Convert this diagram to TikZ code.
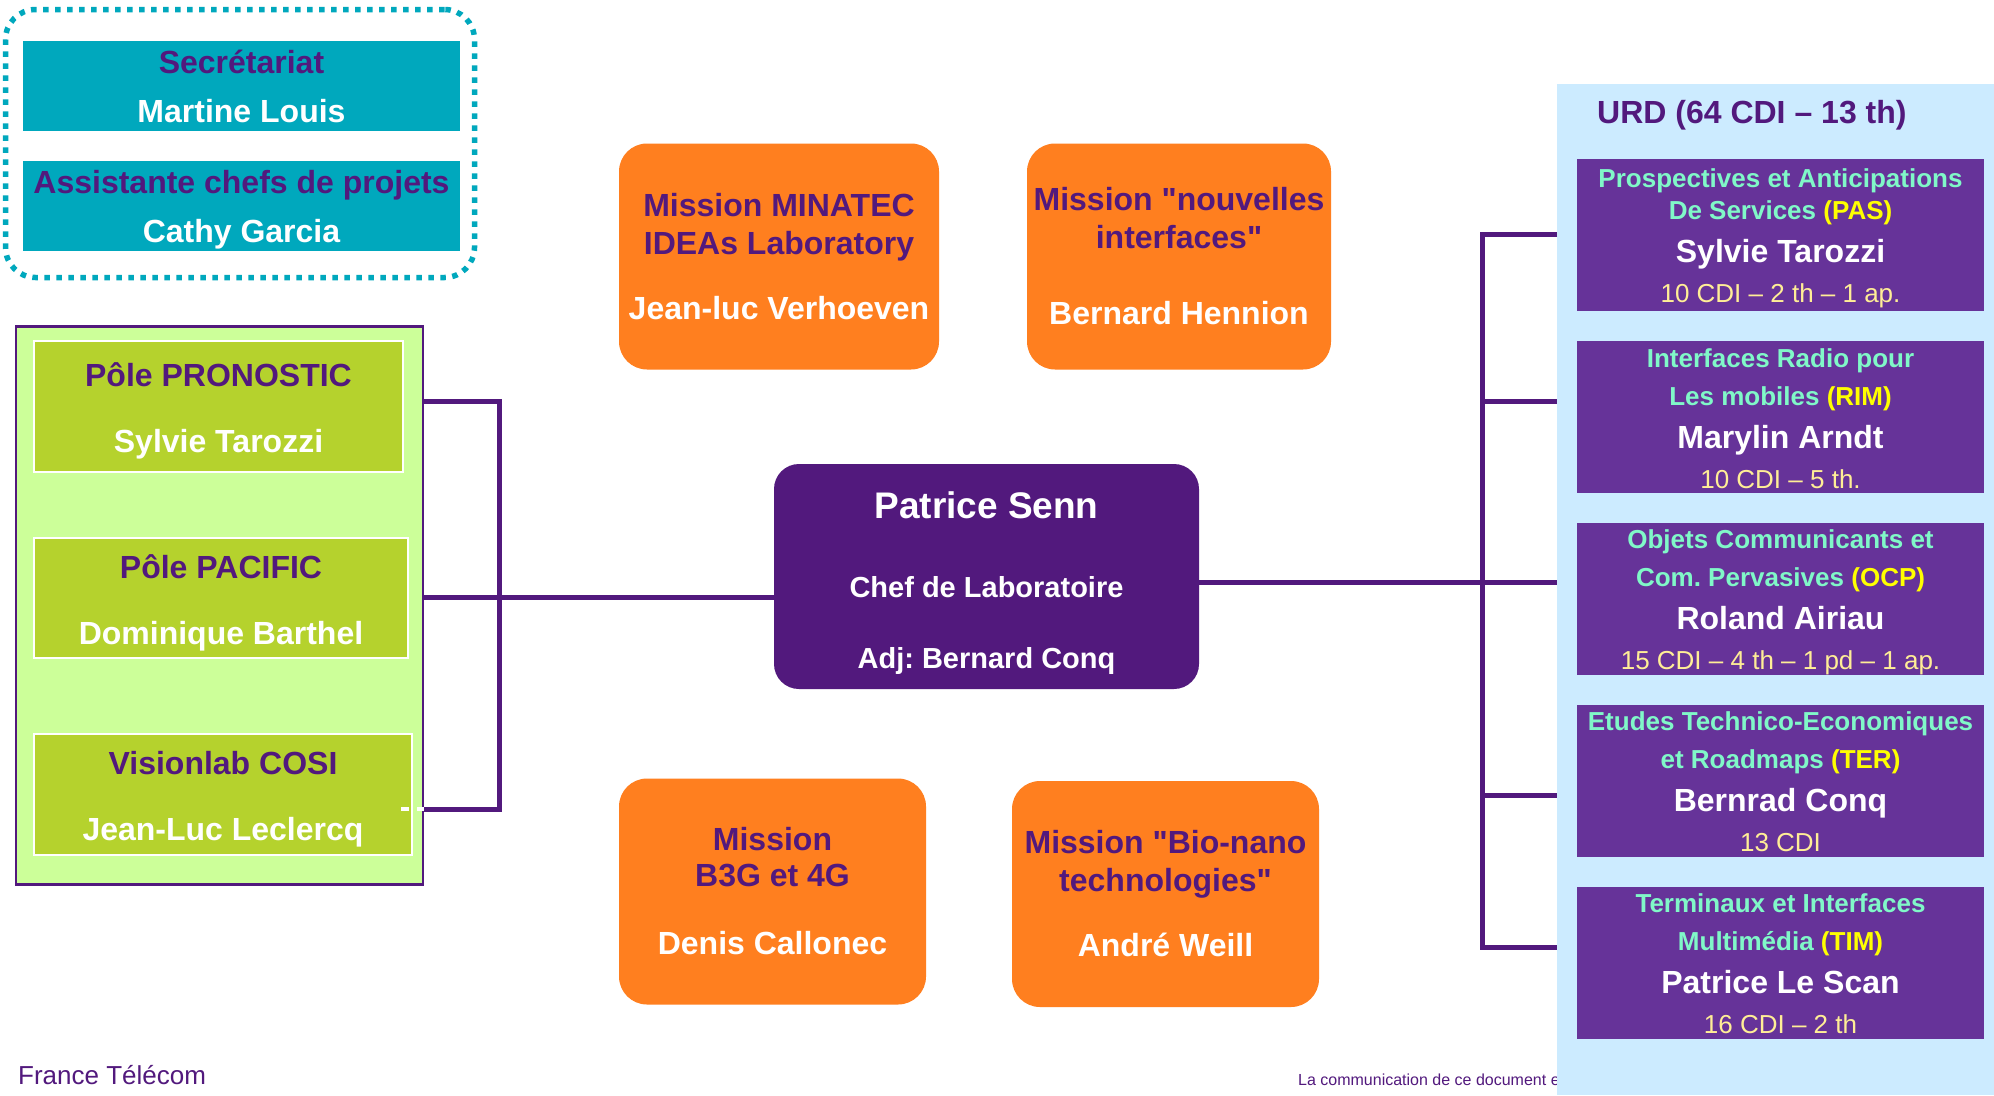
\documentclass[tikz,border=0pt]{standalone}
\usepackage{fontspec}
\setmainfont{Liberation Sans}[Ligatures=TeXOff]
\usetikzlibrary{positioning, calc}
\frenchspacing

\definecolor{labpurple}{RGB}{82,25,125}
\definecolor{unitpurple}{RGB}{102,51,153}
\definecolor{staffteal}{RGB}{0,168,189}
\definecolor{missionorange}{RGB}{255,127,31}
\definecolor{polegreen}{RGB}{181,210,45}
\definecolor{poleback}{RGB}{204,255,153}
\definecolor{urdblue}{RGB}{204,235,255}
\definecolor{mint}{RGB}{128,248,200}
\definecolor{unityellow}{RGB}{255,255,0}
\definecolor{countyellow}{RGB}{255,238,150}

% invisible struts to set the height of the first and depth of the last line
\newcommand{\tallrow}[1]{\rule{0pt}{#1}}
\newcommand{\deeprow}[1]{\rule[-#1]{0pt}{0pt}}

\begin{document}
\begin{tikzpicture}[
    x=1pt, y=-1pt,
    link/.style={draw=labpurple, line width=5pt},
    staffbox/.style={fill=staffteal, minimum width=437pt, minimum height=90pt,
                     inner sep=0pt, align=center, text=white,
                     font=\bfseries\fontsize{32}{49}\selectfont},
    polebox/.style={fill=polegreen, draw=white, line width=2pt, inner sep=0pt,
                    align=center, text=white,
                    font=\bfseries\fontsize{32}{66}\selectfont},
    mission/.style={fill=missionorange, rounded corners=28pt, minimum height=226pt,
                    inner sep=0pt, align=center, text=white,
                    font=\bfseries\fontsize{32}{38}\selectfont},
    unitbox/.style={fill=unitpurple, minimum width=407pt, minimum height=152pt,
                    inner sep=0pt, align=center, text=white,
                    font=\bfseries\fontsize{26}{36}\selectfont}
  ]
  \fill[white] (0,0) rectangle (1994,1095);
  \useasboundingbox (0,0) rectangle (1994,1095);

  % secretariat
  \node[draw=staffteal, line width=5.5pt, dash pattern=on 5.5pt off 6.5pt,
        rounded corners=30pt, minimum width=469pt, minimum height=268pt] (staff) at (240,143.5) {};
  \node[staffbox] (sec) at (241.5,85.5)
    {\tallrow{31pt}\textcolor{labpurple}{Secrétariat}\\ Martine Louis\deeprow{7pt}};
  \node[staffbox, below=30pt of sec] (assist)
    {\tallrow{31pt}\textcolor{labpurple}{Assistante chefs de projets}\\ Cathy Garcia\deeprow{7pt}};

  % poles
  \node[draw=labpurple, line width=2.5pt, fill=poleback, minimum width=407pt,
        minimum height=558pt] (poles) at (219.5,605.5) {};
  \node[polebox, minimum width=369pt, minimum height=131pt] (pronostic) at (218.5,406.5)
    {\tallrow{33pt}\textcolor{labpurple}{Pôle PRONOSTIC}\\ Sylvie Tarozzi\deeprow{7pt}};
  \node[polebox, minimum width=374pt, minimum height=120pt] (pacific) at (221,598)
    {\tallrow{33pt}\textcolor{labpurple}{Pôle PACIFIC}\\ Dominique Barthel\deeprow{7pt}};
  \node[polebox, minimum width=378pt, minimum height=121pt] (cosi) at (223,794.5)
    {\tallrow{33pt}\textcolor{labpurple}{Visionlab COSI}\\ Jean-Luc Leclercq\deeprow{7pt}};

  % head of lab
  \node[fill=labpurple, rounded corners=25pt, minimum width=425pt, minimum height=225pt,
        inner sep=0pt, align=center, text=white,
        font=\bfseries\fontsize{29}{71}\selectfont] (chef) at (986.5,576.5)
    {\tallrow{41pt}{\fontsize{37}{44}\selectfont Patrice Senn}\\[8.5pt]
     Chef de Laboratoire\\ Adj: Bernard Conq\deeprow{7pt}};

  % missions
  \node[mission, minimum width=320pt] (minatec) at (779,256.5)
    {\textcolor{labpurple}{Mission MINATEC}\\ \textcolor{labpurple}{IDEAs Laboratory}\\[27pt] Jean-luc Verhoeven};
  \node[mission, minimum width=304pt] (nouvelles) at (1179,256.5)
    {\textcolor{labpurple}{Mission "nouvelles}\\ \textcolor{labpurple}{interfaces"}\\[38pt] Bernard Hennion};
  \node[mission, minimum width=307pt] (b3g) at (772.5,891.5)
    {\textcolor{labpurple}{Mission}\\[-2pt] \textcolor{labpurple}{B3G et 4G}\\[30pt] Denis Callonec};
  \node[mission, minimum width=307pt] (bionano) at (1165.5,894)
    {\textcolor{labpurple}{Mission "Bio-nano}\\ \textcolor{labpurple}{technologies"}\\[27pt] André Weill};

  % footer
  \node[anchor=west, inner sep=0pt, text=labpurple, font=\fontsize{26}{30}\selectfont] (ft) at (18,1075) {France Télécom};
  \node[anchor=west, inner sep=0pt, text=labpurple, font=\fontsize{16}{19}\selectfont] (notice) at (1298,1080) {La communication de ce document e};

  % URD panel
  \node[fill=urdblue, minimum width=437pt, minimum height=1011pt, inner sep=0pt,
        anchor=north west] (urd) at (1557,84) {};
  \node[anchor=west, inner sep=0pt, text=labpurple,
        font=\bfseries\fontsize{32}{38}\selectfont] (urdtitle) at (1597,115) {URD (64 CDI – 13 th)};

  \node[unitbox, anchor=north] (pas) at (1780.5,159)
    {\tallrow{25pt}\textcolor{mint}{Prospectives et Anticipations}\\[-4pt]
     \textcolor{mint}{De Services} \textcolor{unityellow}{(PAS)}\\[7pt]
     {\fontsize{32}{36}\selectfont Sylvie Tarozzi}\\[4pt]
     {\mdseries\color{countyellow}10 CDI – 2 th – 1 ap.}\deeprow{4pt}};
  \node[unitbox, below=29.5pt of pas] (rim)
    {\tallrow{25pt}\textcolor{mint}{Interfaces Radio pour}\\[2pt]
     \textcolor{mint}{Les mobiles} \textcolor{unityellow}{(RIM)}\\[7pt]
     {\fontsize{32}{36}\selectfont Marylin Arndt}\\[4pt]
     {\mdseries\color{countyellow}10 CDI – 5 th.}\deeprow{4pt}};
  \node[unitbox, below=29.5pt of rim] (ocp)
    {\tallrow{25pt}\textcolor{mint}{Objets Communicants et}\\[2pt]
     \textcolor{mint}{Com. Pervasives} \textcolor{unityellow}{(OCP)}\\[7pt]
     {\fontsize{32}{36}\selectfont Roland Airiau}\\[4pt]
     {\mdseries\color{countyellow}15 CDI – 4 th – 1 pd – 1 ap.}\deeprow{4pt}};
  \node[unitbox, below=29.5pt of ocp] (ter)
    {\tallrow{25pt}\textcolor{mint}{Etudes Technico-Economiques}\\[2pt]
     \textcolor{mint}{et Roadmaps} \textcolor{unityellow}{(TER)}\\[7pt]
     {\fontsize{32}{36}\selectfont Bernrad Conq}\\[4pt]
     {\mdseries\color{countyellow}13 CDI}\deeprow{4pt}};
  \node[unitbox, below=29.5pt of ter] (tim)
    {\tallrow{25pt}\textcolor{mint}{Terminaux et Interfaces}\\[2pt]
     \textcolor{mint}{Multimédia} \textcolor{unityellow}{(TIM)}\\[7pt]
     {\fontsize{32}{36}\selectfont Patrice Le Scan}\\[4pt]
     {\mdseries\color{countyellow}16 CDI – 2 th}\deeprow{4pt}};

  % connectors, left
  \coordinate (lbar) at (499,0);
  \draw[link] ([yshift=5.5pt]pronostic.east -| poles.east) -| ([yshift=-14.5pt]cosi.east -| lbar)
    -- ([yshift=-14.5pt]cosi.east -| poles.east);
  \draw[link] ([yshift=1pt]pacific.east -| poles.east) -- ([yshift=1pt]pacific.east -| chef.west);
  \draw[white, line width=4pt, dash pattern=on 8pt off 8pt]
    ([xshift=-12pt,yshift=-14.5pt]cosi.east) -- ([yshift=-14.5pt]cosi.east -| poles.east);

  % connectors, right
  \coordinate (rbar) at (1482,0);
  \draw[link] ([yshift=1pt]pas.west -| urd.west) -| ([yshift=15pt]tim.west -| rbar)
    -- ([yshift=15pt]tim.west -| urd.west);
  \draw[link] ([yshift=15.5pt]rim.west -| rbar) -- ([yshift=15.5pt]rim.west -| urd.west);
  \draw[link] ([yshift=-5.5pt]chef.east) -- ([yshift=-5.5pt]chef.east -| urd.west);
  \draw[link] ([yshift=-14.5pt]ter.west -| rbar) -- ([yshift=-14.5pt]ter.west -| urd.west);
\end{tikzpicture}
\end{document}
